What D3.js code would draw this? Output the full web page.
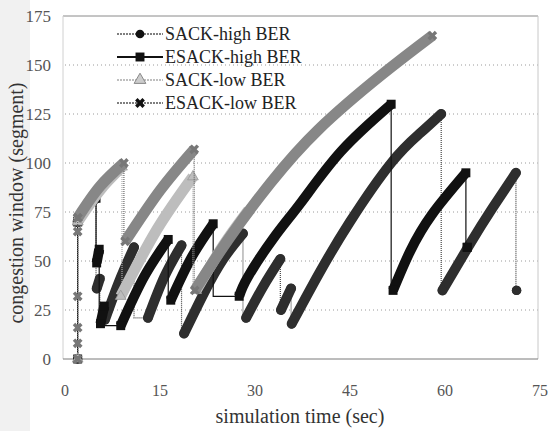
<!DOCTYPE html>
<html>
<head>
<meta charset="utf-8">
<script src="https://cdn.jsdelivr.net/npm/d3@7"></script>
<style>
  body { margin: 0; background: #fff; }
</style>
</head>
<body>
<div id="chart"></div>
<script>
// axis ticks
const xTicks = [0, 15, 30, 45, 60, 75];
const yTicks = [0, 25, 50, 75, 100, 125, 150, 175];

const seriesNames = ['SACK-high BER', 'ESACK-high BER', 'SACK-low BER', 'ESACK-low BER'];

// slow start points [time, cwnd]
const sackHighStart = [[2, 0], [2, 70]];
const esackHighStart = [[2, 0], [2, 70]];
const sackLowStart = [[2, 0], [2, 70]];
const esackLowStart = [[2, 0], [2, 8], [2, 16], [2, 32], [2, 65], [2, 72]];

// congestion avoidance ramps
const sackHighRamps = [
  [[2, 70], [3.5, 78], [4.9, 84]],
  [[5.0, 36], [5.5, 41]],
  [[6.3, 20], [8.6, 40], [10.9, 57]],
  [[13.1, 21], [15.7, 42], [18.4, 58]],
  [[18.8, 13], [22, 34], [25, 51], [28.1, 64]],
  [[28.6, 21], [31.3, 37], [34, 51]],
  [[34.1, 25], [35.7, 36]],
  [[35.8, 18], [40, 43], [45, 70], [51.5, 100], [56, 115], [59.4, 125]],
  [[59.6, 35], [64, 59], [67.5, 77], [71.2, 95]],
  [[71.3, 35]]
];
const esackHighRamps = [
  [[2, 70], [3.5, 78], [4.9, 82]],
  [[5.0, 49], [5.4, 56]],
  [[5.6, 18], [6.2, 27]],
  [[8.8, 17], [12.5, 42], [16.3, 61]],
  [[16.7, 30], [20, 52], [23.4, 69]],
  [[27.5, 32], [28.9, 42], [33, 62], [37.3, 80], [43.6, 106], [51.5, 130]],
  [[51.8, 35], [54.5, 55], [58, 74], [63.3, 95]],
  [[63.5, 57]]
];
const sackLowRamps = [
  [[2, 70], [5.5, 86], [9, 98]],
  [[8.8, 32], [14.5, 66], [20.2, 93]],
  [[20.7, 35], [25, 58], [29, 76]]
];
const esackLowRamps = [
  [[2, 72], [5.5, 88], [9.3, 100]],
  [[9.5, 60], [15, 86], [20.4, 107]],
  [[20.5, 35], [26, 62], [32.5, 90], [40, 117], [50, 145], [58, 165]]
];

const width = 551, height = 431;
const font = '"Liberation Serif", "Times New Roman", serif';
const x = d3.scaleLinear().domain([0, 75]).range([65, 540]);
const y = d3.scaleLinear().domain([0, 175]).range([359, 16]);

const svg = d3.select('#chart').append('svg')
  .attr('width', width)
  .attr('height', height)
  .attr('font-family', font);

// faint scan tint on the left edge
svg.append('rect').attr('x', 0).attr('y', 0).attr('width', 30).attr('height', height)
  .attr('fill', '#f1f1f1');

// grid
svg.append('g').selectAll('line')
  .data(yTicks.filter(d => d > 0 && d < 175))
  .enter().append('line')
  .attr('x1', x(0)).attr('x2', x(75))
  .attr('y1', d => y(d)).attr('y2', d => y(d))
  .attr('stroke', '#9a9a9a').attr('stroke-width', 1)
  .attr('stroke-dasharray', '1,3');

// frame
svg.append('line').attr('x1', x(0) - 2).attr('x2', x(75) - 2).attr('y1', y(175)).attr('y2', y(175))
  .attr('stroke', '#8a8a8a');
svg.append('line').attr('x1', x(75) - 2).attr('x2', x(75) - 2).attr('y1', y(175)).attr('y2', y(0))
  .attr('stroke', '#c8c8c8');
svg.append('line').attr('x1', x(0) - 2).attr('x2', x(0) - 2).attr('y1', y(175)).attr('y2', y(0))
  .attr('stroke', '#d0d0d0');
svg.append('line').attr('x1', x(0) - 2).attr('x2', x(75) - 2).attr('y1', y(0)).attr('y2', y(0))
  .attr('stroke', '#7a7a7a');

// tick labels
svg.append('g').selectAll('text')
  .data(yTicks).enter().append('text')
  .attr('x', 51).attr('y', d => y(d) + 6)
  .attr('text-anchor', 'end')
  .attr('font-size', 17).attr('fill', '#555')
  .text(d => d);
svg.append('g').selectAll('text')
  .data(xTicks).enter().append('text')
  .attr('x', d => x(d)).attr('y', 396)
  .attr('text-anchor', 'middle')
  .attr('font-size', 16).attr('fill', '#555')
  .text(d => d);

svg.append('text').attr('x', 300).attr('y', 423).attr('text-anchor', 'middle')
  .attr('font-size', 20).attr('fill', '#333').text('simulation time (sec)');
svg.append('text').attr('transform', 'translate(23,203) rotate(-90)').attr('text-anchor', 'middle')
  .attr('font-size', 20).attr('fill', '#333').text('congestion window (segment)');

const styles = [
  { name: seriesNames[0], start: sackHighStart, ramps: sackHighRamps, color: '#2e2e2e', thin: '#444', dash: '1,1', band: 10, cap: 'round', symbol: d3.symbolCircle, size: 70, rot: 0 },
  { name: seriesNames[1], start: esackHighStart, ramps: esackHighRamps, color: '#111', thin: '#111', dash: null, band: 10, cap: 'butt', symbol: d3.symbolSquare, size: 80, rot: 0 },
  { name: seriesNames[2], start: sackLowStart, ramps: sackLowRamps, color: '#bdbdbd', thin: '#aaa', dash: '1,1', band: 11, cap: 'butt', symbol: d3.symbolTriangle, size: 50, rot: 0 },
  { name: seriesNames[3], start: esackLowStart, ramps: esackLowRamps, color: '#878787', thin: '#666', dash: '1,1', band: 11, cap: 'butt', symbol: d3.symbolCross, size: 60, rot: 45 }
];

const band = d3.line().x(d => x(d[0])).y(d => y(d[1])).curve(d3.curveNatural);
const step = d3.line().x(d => x(d[0])).y(d => y(d[1])).curve(d3.curveStepBefore);
const plain = d3.line().x(d => x(d[0])).y(d => y(d[1]));

styles.forEach(s => {
  const g = svg.append('g');
  // slow start
  g.append('path').attr('d', plain(s.start)).attr('fill', 'none')
    .attr('stroke', s.thin).attr('stroke-width', 1.2)
    .attr('stroke-dasharray', s.dash);
  // drops between ramps
  for (let i = 0; i < s.ramps.length - 1; i++) {
    const a = s.ramps[i][s.ramps[i].length - 1];
    const b = s.ramps[i + 1][0];
    g.append('path').attr('d', step([a, b])).attr('fill', 'none')
      .attr('stroke', s.thin).attr('stroke-width', 1.2)
      .attr('stroke-dasharray', s.dash);
  }
  // thick ramps
  g.selectAll('.ramp').data(s.ramps.filter(r => r.length > 1)).enter().append('path')
    .attr('class', 'ramp')
    .attr('d', band).attr('fill', 'none')
    .attr('stroke', s.color).attr('stroke-width', s.band)
    .attr('stroke-linecap', s.cap);
  // markers at slow start points and ramp ends
  const pts = s.start.concat(s.ramps.map(r => r[0]), s.ramps.map(r => r[r.length - 1]));
  g.selectAll('.mk').data(pts).enter().append('path')
    .attr('class', 'mk')
    .attr('d', d3.symbol().type(s.symbol).size(s.size))
    .attr('transform', d => `translate(${x(d[0])},${y(d[1])}) rotate(${s.rot})`)
    .attr('fill', s.symbol === d3.symbolCross ? '#777' : s.color)
    .attr('stroke', s.symbol === d3.symbolTriangle ? '#999' : 'none')
    .attr('stroke-width', 0.8);
});

// legend
const legend = svg.append('g').attr('transform', 'translate(117,34)');
styles.forEach((s, i) => {
  const row = legend.append('g').attr('transform', `translate(0,${i * 23})`);
  row.append('line').attr('x1', 0).attr('x2', 46).attr('y1', 0).attr('y2', 0)
    .attr('stroke', i === 2 ? '#aaa' : (i === 1 ? '#111' : '#555'))
    .attr('stroke-width', i === 1 ? 2.2 : 1.6)
    .attr('stroke-dasharray', i === 1 ? null : '2,1');
  row.append('path')
    .attr('d', d3.symbol().type(s.symbol).size(i === 1 ? 80 : 60))
    .attr('transform', `translate(23,0) rotate(${s.rot})`)
    .attr('fill', i === 2 ? '#ccc' : '#111')
    .attr('stroke', i === 2 ? '#888' : 'none');
  row.append('text').attr('x', 48).attr('y', 6)
    .attr('font-size', 18).attr('fill', '#222').text(s.name);
});
</script>
</body>
</html>
